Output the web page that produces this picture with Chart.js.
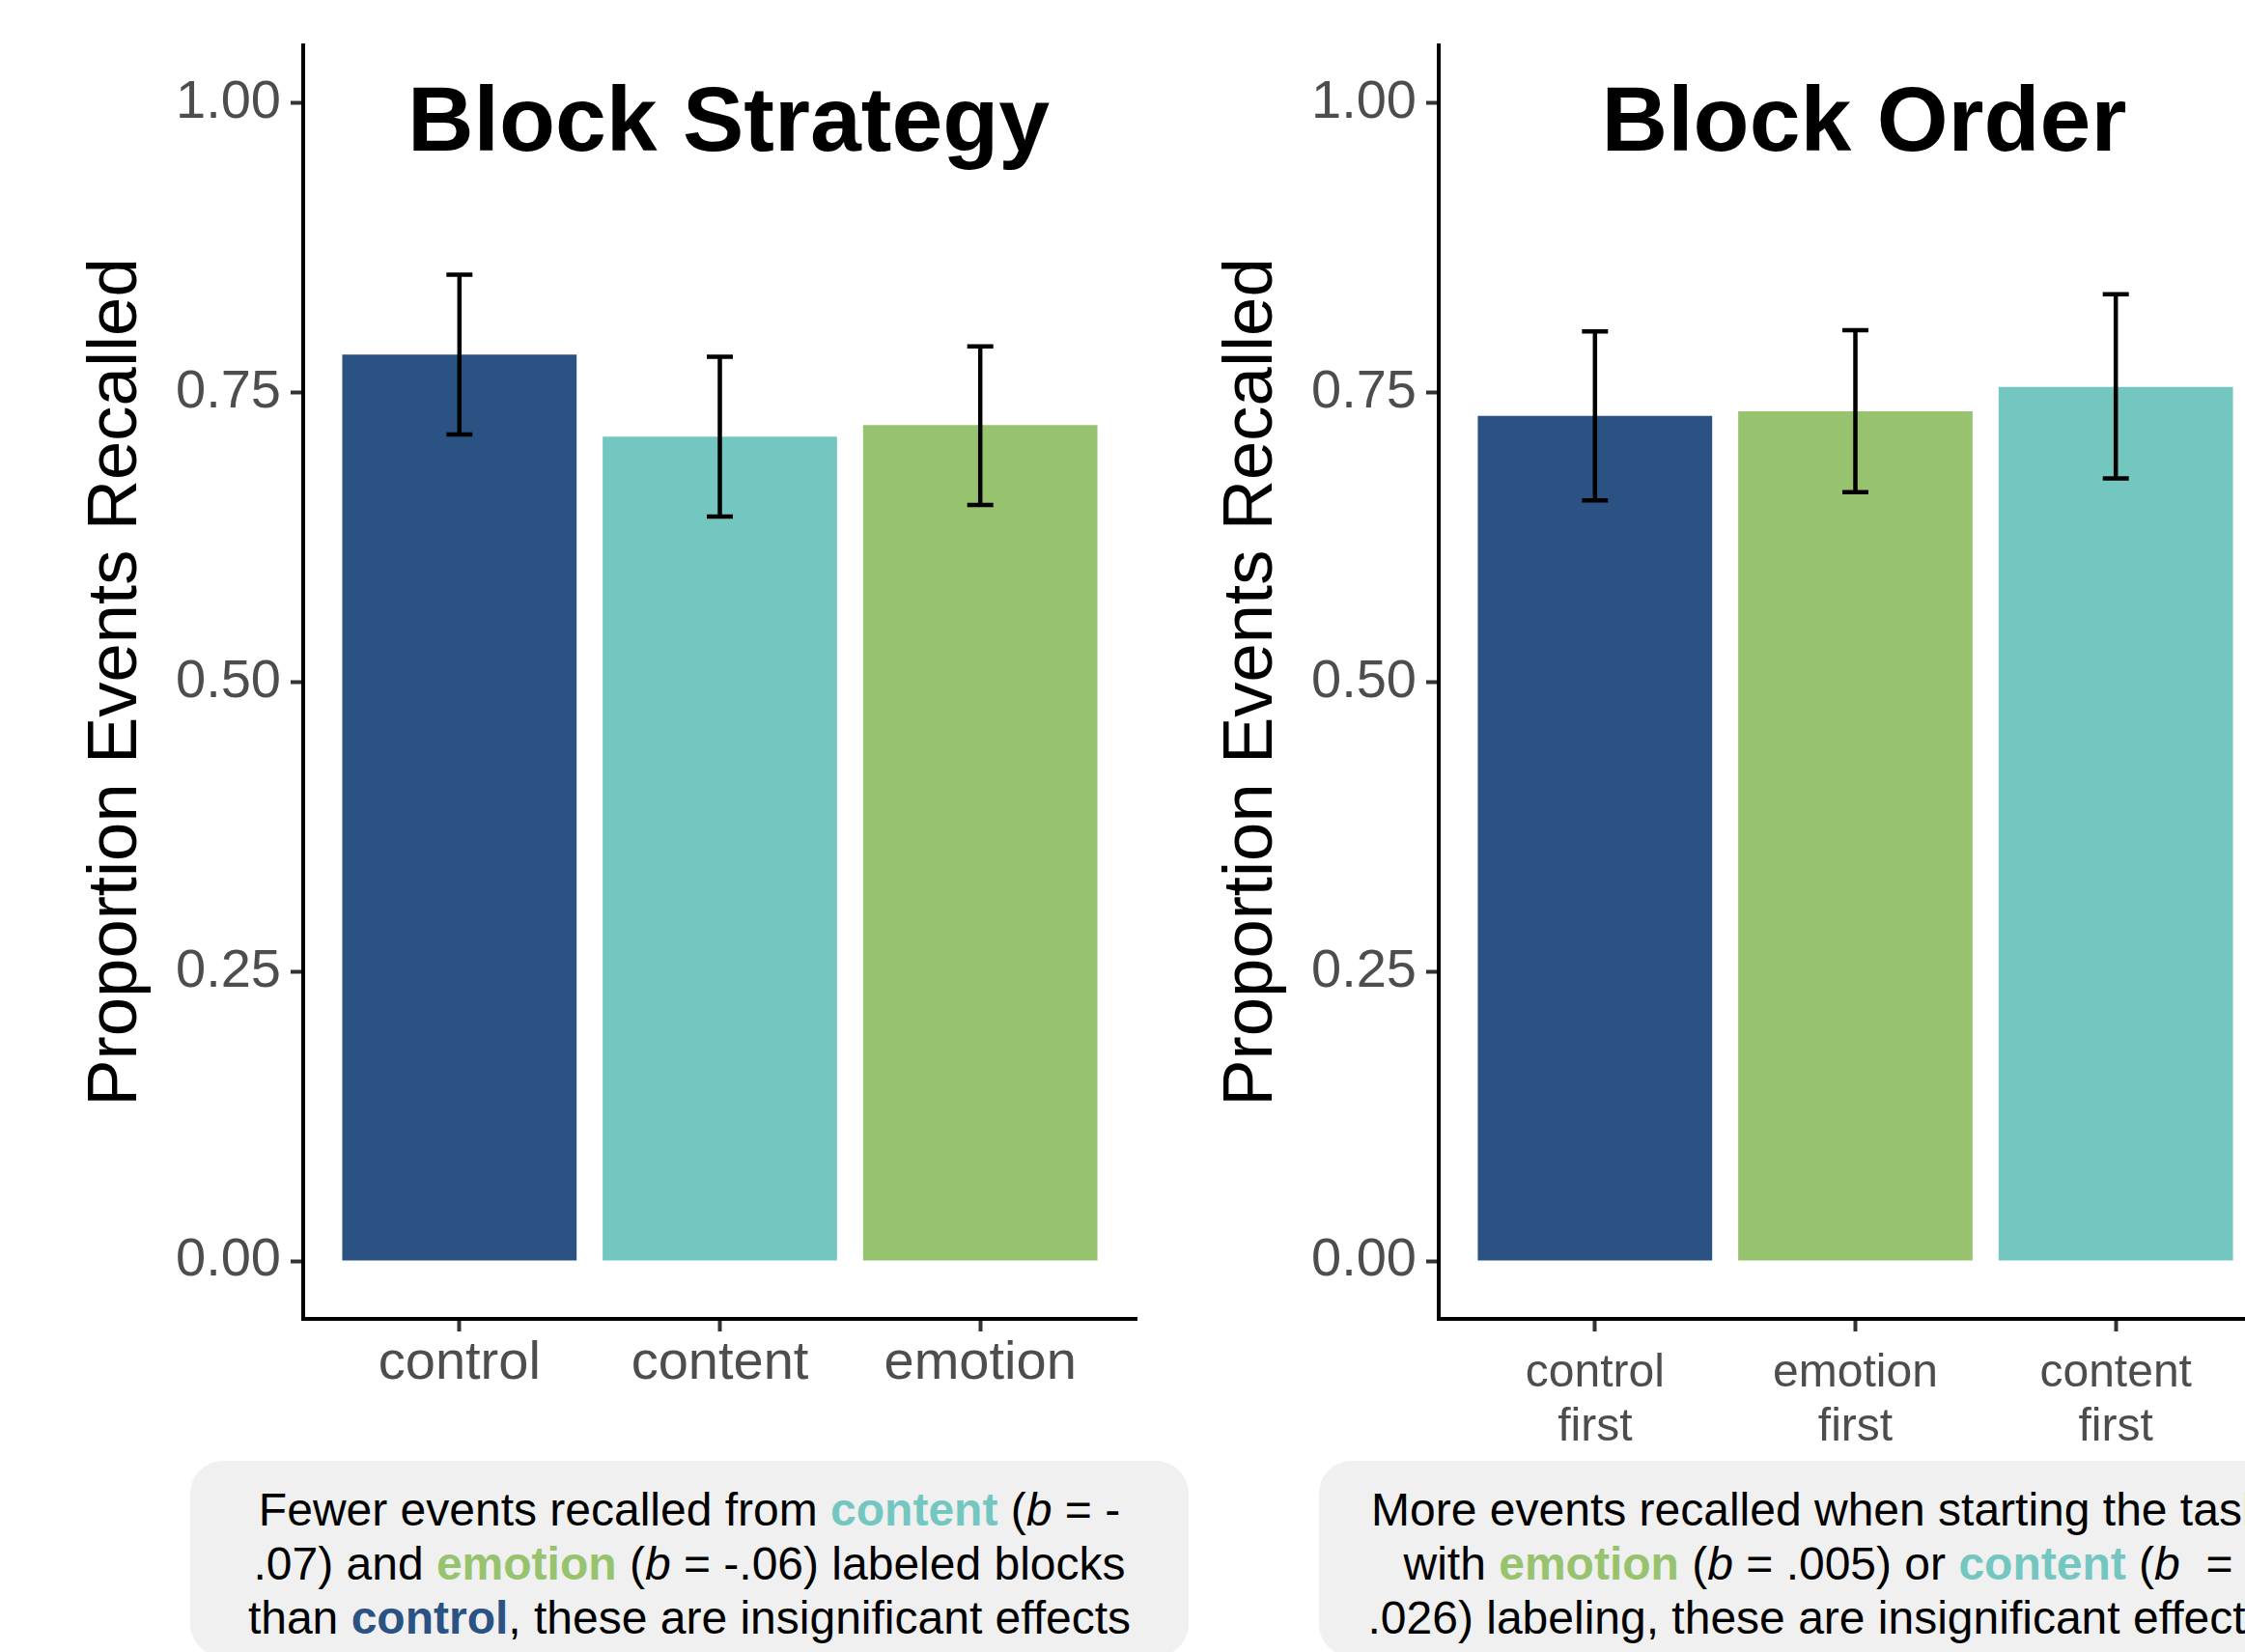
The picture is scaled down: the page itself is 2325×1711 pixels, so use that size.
<!DOCTYPE html>
<html>
<head>
<meta charset="utf-8">
<script src="https://cdn.jsdelivr.net/npm/chart.js@4.4.1/dist/chart.umd.min.js"></script>
<style>
  html, body { margin: 0; padding: 0; width: 2325px; height: 1711px; overflow: hidden; background: #ffffff; }
  .panel { position: absolute; top: 0; }
  .caption {
    position: absolute; top: 1513px; width: 1034px; height: 203px;
    background: #f0f0f0; border-radius: 34px; box-sizing: border-box; padding-top: 23px;
    text-align: center; white-space: nowrap; color: #000;
    font-family: 'Liberation Sans', Arial, Helvetica, sans-serif; font-size: 48px; line-height: 56px;
  }
  .caption b { font-weight: bold; }
  .c-control { color: #2a5283; }
  .c-content { color: #74c7c0; }
  .c-emotion { color: #97c36f; }
</style>
</head>
<body>
<canvas id="strategy" class="panel" width="1190" height="1511" style="left:0px;width:1190px;height:1511px"></canvas>
<canvas id="order" class="panel" width="1190" height="1511" style="left:1176px;width:1190px;height:1511px"></canvas>

<div class="caption" style="left:197px">
  Fewer events recalled from <b class="c-content">content</b> (<i>b</i> = -<br>
  .07) and <b class="c-emotion">emotion</b> (<i>b</i> = -.06) labeled blocks<br>
  than <b class="c-control">control</b>, these are insignificant effects
</div>
<div class="caption" style="left:1366px">
  More events recalled when starting the task<br>
  with <b class="c-emotion">emotion</b> (<i>b</i> = .005) or <b class="c-content">content</b> (<i>b</i>&nbsp; =<br>
  .026) labeling, these are insignificant effects
</div>

<script>
// Colours used for the three conditions
const NAVY = '#2a5283';
const TEAL = '#74c7c0';
const GREEN = '#97c36f';
const FONT = "'Liberation Sans', Arial, Helvetica, sans-serif";

// Shared y-axis ticks
const yTicks = [0, 0.25, 0.5, 0.75, 1.0];

// Block Strategy panel
const strategyCategories = ['control', 'content', 'emotion'];
const strategyMeans = [0.783, 0.712, 0.722];
const strategyLower = [0.714, 0.643, 0.653];
const strategyUpper = [0.852, 0.781, 0.790];
const strategyColors = [NAVY, TEAL, GREEN];

// Block Order panel
const orderCategories = [['control', 'first'], ['emotion', 'first'], ['content', 'first']];
const orderMeans = [0.730, 0.734, 0.755];
const orderLower = [0.657, 0.664, 0.676];
const orderUpper = [0.803, 0.804, 0.835];
const orderColors = [NAVY, GREEN, TEAL];

// Error bars with caps, drawn through the chart's own scales
const errorBarPlugin = {
  id: 'errorBars',
  afterDatasetsDraw(chart, args, opts) {
    const { ctx, scales: { x, y } } = chart;
    const half = x.getPixelForValue(1.05) - x.getPixelForValue(1);
    ctx.save();
    ctx.strokeStyle = '#000';
    ctx.lineWidth = 4.5;
    ctx.lineCap = 'butt';
    opts.lower.forEach((lo, i) => {
      const px = x.getPixelForValue(i + 1);
      const yLo = y.getPixelForValue(lo);
      const yHi = y.getPixelForValue(opts.upper[i]);
      ctx.beginPath();
      ctx.moveTo(px, yLo); ctx.lineTo(px, yHi);
      ctx.moveTo(px - half, yLo); ctx.lineTo(px + half, yLo);
      ctx.moveTo(px - half, yHi); ctx.lineTo(px + half, yHi);
      ctx.stroke();
    });
    ctx.restore();
  }
};

// Panel heading inside the plot area and rotated y-axis title
const labelsPlugin = {
  id: 'panelLabels',
  afterDraw(chart, args, opts) {
    const { ctx, chartArea } = chart;
    ctx.save();
    ctx.fillStyle = '#000';
    ctx.font = `bold 95px ${FONT}`;
    ctx.textAlign = 'center';
    ctx.textBaseline = 'alphabetic';
    ctx.fillText(opts.title, (chartArea.left + chartArea.right) / 2 + 9, chartArea.top + 109);

    ctx.translate(chartArea.left - 173, (chartArea.top + chartArea.bottom) / 2);
    ctx.rotate(-Math.PI / 2);
    ctx.font = `72.5px ${FONT}`;
    ctx.fillText('Proportion Events Recalled', 0, 0);
    ctx.restore();
  }
};

function makePanel(id, title, categories, means, lower, upper, colors, xFont, xPad) {
  const tickGrid = {
    drawOnChartArea: false, drawTicks: true, tickLength: 13,
    tickWidth: 4, tickColor: '#333333', offset: false
  };
  const axisBorder = { display: true, color: '#000000', width: 4 };
  return new Chart(document.getElementById(id), {
    type: 'bar',
    data: {
      datasets: [{
        data: means.map((m, i) => ({ x: i + 1, y: m })),
        backgroundColor: colors,
        borderWidth: 0,
        categoryPercentage: 0.9,
        barPercentage: 1.0
      }]
    },
    options: {
      responsive: false,
      animation: false,
      devicePixelRatio: 1,
      layout: { padding: { top: 47, left: 0, right: 13, bottom: 0 } },
      plugins: {
        legend: { display: false },
        tooltip: { enabled: false },
        errorBars: { lower, upper },
        panelLabels: { title }
      },
      scales: {
        x: {
          type: 'linear', min: 0.4, max: 3.6, offset: false,
          afterBuildTicks: s => { s.ticks = categories.map((c, i) => ({ value: i + 1 })); },
          afterFit: s => { s.height = 145; },
          ticks: {
            callback: v => categories[Math.round(v) - 1],
            font: xFont, color: '#4d4d4d', padding: xPad,
            maxRotation: 0, autoSkip: false
          },
          grid: tickGrid,
          border: axisBorder
        },
        y: {
          min: -0.05, max: 1.05,
          afterBuildTicks: s => { s.ticks = yTicks.map(v => ({ value: v })); },
          afterFit: s => { s.width = 314; },
          ticks: {
            callback: v => Number(v).toFixed(2),
            font: { family: FONT, size: 56 }, color: '#4d4d4d', padding: 10
          },
          grid: tickGrid,
          border: axisBorder
        }
      }
    },
    plugins: [errorBarPlugin, labelsPlugin]
  });
}

makePanel('strategy', 'Block Strategy', strategyCategories, strategyMeans, strategyLower, strategyUpper,
  strategyColors, { family: FONT, size: 56, lineHeight: 1.2 }, 0);
makePanel('order', 'Block Order', orderCategories, orderMeans, orderLower, orderUpper,
  orderColors, { family: FONT, size: 48, lineHeight: 56 / 48 }, 16);
</script>
</body>
</html>
